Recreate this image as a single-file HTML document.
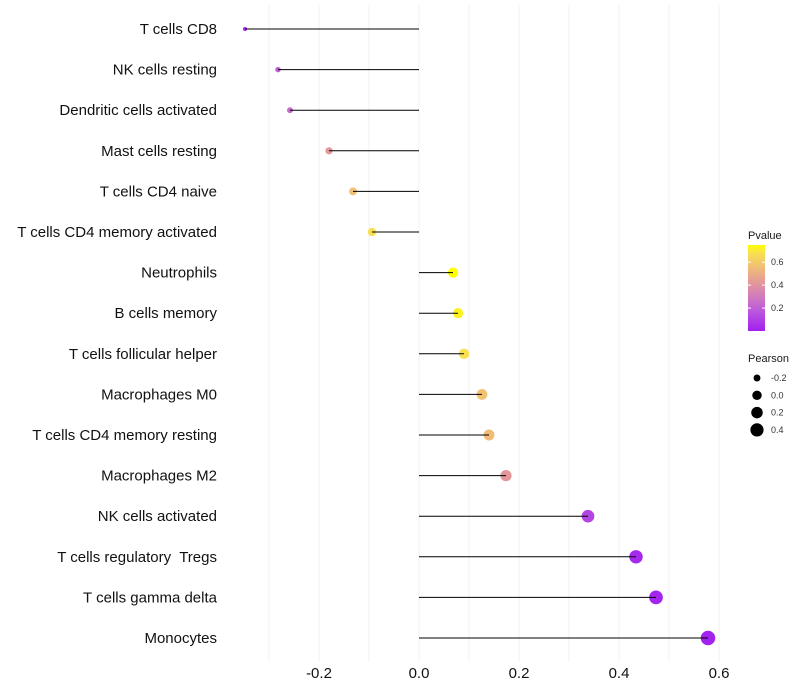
<!DOCTYPE html>
<html><head><meta charset="utf-8"><style>
body{margin:0;background:#fff;}
svg{display:block;font-family:"Liberation Sans",sans-serif;}
</style></head><body>
<svg id="chart" width="800" height="700"></svg>
<script>
const categories=["T cells CD8","NK cells resting","Dendritic cells activated","Mast cells resting","T cells CD4 naive","T cells CD4 memory activated","Neutrophils","B cells memory","T cells follicular helper","Macrophages M0","T cells CD4 memory resting","Macrophages M2","NK cells activated","T cells regulatory  Tregs","T cells gamma delta","Monocytes"];
const pearson=[-0.348,-0.282,-0.258,-0.18,-0.132,-0.094,0.068,0.078,0.09,0.126,0.14,0.174,0.338,0.434,0.474,0.578];
const pvalue=[0.03,0.2,0.24,0.42,0.56,0.68,0.75,0.72,0.68,0.57,0.55,0.42,0.12,0.03,0.02,0.01];
const xTicks=[-0.2,0,0.2,0.4,0.6];
const xTickLabels=["-0.2","0.0","0.2","0.4","0.6"];
const gridVals=[-0.3,-0.2,-0.1,0,0.1,0.2,0.3,0.4,0.5,0.6];
const sizeLegend=[-0.2,0,0.2,0.4];
const colorLegend=[0.2,0.4,0.6];

const NS="http://www.w3.org/2000/svg";
const svg=document.getElementById('chart');
function mk(t,a,p){const e=document.createElementNS(NS,t);for(const k in a)e.setAttribute(k,a[k]);(p||svg).appendChild(e);return e;}
const X=v=>419+v*500;
const Y=i=>29+i*40.6;
const vMin=-0.35,vMax=0.58;
const R=v=>Math.sqrt(4+(v-vMin)/(vMax-vMin)*49);
const pMax=0.75;
const stops=[[0,[160,32,240]],[0.15,[184,80,224]],[0.28,[206,118,196]],[0.42,[228,151,154]],[0.55,[240,188,120]],[0.68,[248,224,80]],[0.75,[255,255,0]]];
function col(p){p=Math.max(0,Math.min(pMax,p));for(let i=1;i<stops.length;i++){if(p<=stops[i][0]){const [p0,a]=stops[i-1],[p1,b]=stops[i];const t=(p-p0)/(p1-p0);return `rgb(${a.map((c,k)=>Math.round(c+(b[k]-c)*t)).join(',')})`;}}return 'rgb(255,255,0)';}

gridVals.forEach(v=>{const g=mk('line',{x1:X(v),x2:X(v),y1:5,y2:662,stroke:'#f0f0f0','stroke-width':1});

});

categories.forEach((c,i)=>{
  const t=mk('text',{x:217,y:Y(i)+5,'text-anchor':'end','font-size':15,fill:'#111'});t.textContent=c;
  t.setAttribute('xml:space','preserve');t.style.whiteSpace='pre';
  
  
  const pt=mk('circle',{cx:X(pearson[i]),cy:Y(i),r:R(pearson[i]),fill:col(pvalue[i])});
  
  
  const ln=mk('line',{x1:X(0),x2:X(pearson[i]),y1:Y(i),y2:Y(i),stroke:'#000','stroke-width':1});
  
  
});

xTicks.forEach((v,i)=>{const t=mk('text',{x:X(v),y:678,'text-anchor':'middle','font-size':15,fill:'#111'});t.textContent=xTickLabels[i];

});

const lt=mk('text',{x:748,y:239,'font-size':11,fill:'#1a1a1a'});lt.textContent='Pvalue';


const defs=mk('defs',{});const gr=mk('linearGradient',{id:'g',x1:0,y1:1,x2:0,y2:0},defs);
stops.forEach(s=>mk('stop',{offset:s[0]/pMax,'stop-color':col(s[0])},gr));
const bar=mk('rect',{x:748,y:245,width:17,height:86,fill:'url(#g)'});


const cy=v=>331-v/pMax*86;
colorLegend.forEach(v=>{mk('line',{x1:748,x2:751,y1:cy(v),y2:cy(v),stroke:'#fff'});mk('line',{x1:762,x2:765,y1:cy(v),y2:cy(v),stroke:'#fff'});
const t=mk('text',{x:771,y:cy(v)+3,'font-size':9,fill:'#333'});t.textContent=v.toFixed(1);

});

const st=mk('text',{x:748,y:362,'font-size':11,fill:'#1a1a1a'});st.textContent='Pearson';


sizeLegend.forEach((v,i)=>{const y=378+i*17.3;
const c=mk('circle',{cx:757,cy:y,r:R(v),fill:'#000'});


const t=mk('text',{x:771,y:y+3,'font-size':9,fill:'#333'});t.textContent=v.toFixed(1);

});
</script>
</body></html>
